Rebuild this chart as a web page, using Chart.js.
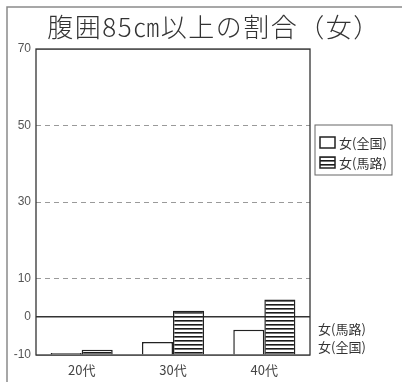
<!DOCTYPE html>
<html>
<head>
<meta charset="utf-8">
<script src="https://cdn.jsdelivr.net/npm/chart.js@4"></script>
<style>
  html, body { margin: 0; padding: 0; background: #fff; }
  #wrap { width: 402px; height: 382px; position: relative; }
</style>
</head>
<body>
<div id="wrap"><canvas id="chart" width="402" height="382"></canvas></div>
<script>
// data
const titleText = '腹囲85㎝以上の割合（女）';
const ageGroups = ['20代', '30代', '40代'];
const nationalValues = [-9.5, -6.6, -3.4];   // 女(全国)
const umajiValues = [-8.6, 1.6, 4.5];       // 女(馬路)
const yTicks = [-10, 0, 10, 30, 50, 70];
const sideLabels = ['女(馬路)', '女(全国)'];

const JP_FONT = '"Noto Sans CJK JP", "Noto Sans", sans-serif';

// horizontal stripe fill for the 馬路 bars
function makeStripes() {
    const c = document.createElement('canvas');
    c.width = 4;
    c.height = 4;
    const g = c.getContext('2d');
    g.fillStyle = '#fff';
    g.fillRect(0, 0, 4, 4);
    g.fillStyle = '#1a1a1a';
    g.fillRect(0, 0, 4, 1.6);
    return g.createPattern(c, 'repeat');
}
const stripes = makeStripes();

const framePlugin = {
    id: 'frame',
    beforeDraw(chart) {
        const ctx = chart.ctx;
        ctx.save();
        ctx.strokeStyle = '#8a8a8a';
        ctx.lineWidth = 1.5;
        ctx.beginPath();
        ctx.moveTo(7, 382);
        ctx.lineTo(7, 7);
        ctx.lineTo(402, 7);
        ctx.stroke();

        ctx.fillStyle = '#333';
        ctx.font = '300 26px ' + JP_FONT;
        ctx.letterSpacing = '1.5px';
        ctx.textAlign = 'center';
        ctx.textBaseline = 'middle';
        ctx.fillText(titleText, 214, 27);
        ctx.restore();
    },
    afterDatasetsDraw(chart) {
        const ctx = chart.ctx;
        const a = chart.chartArea;
        const y = chart.scales.y;
        ctx.save();
        ctx.strokeStyle = '#333';
        ctx.lineWidth = 1.3;
        ctx.strokeRect(a.left, a.top, a.right - a.left, a.bottom - a.top);

        // labels right of the plot
        ctx.fillStyle = '#333';
        ctx.font = '13px ' + JP_FONT;
        ctx.textAlign = 'left';
        ctx.textBaseline = 'middle';
        ctx.fillText(sideLabels[0], a.right + 8, y.getPixelForValue(0) + 12);
        ctx.fillText(sideLabels[1], a.right + 8, y.getPixelForValue(0) + 30);

        // legend box
        const lx = 315, ly = 125, lw = 77, lh = 50;
        ctx.strokeStyle = '#666';
        ctx.lineWidth = 1;
        ctx.strokeRect(lx, ly, lw, lh);
        chart.data.datasets.forEach((ds, i) => {
            const sy = ly + 12 + i * 20;
            ctx.fillStyle = ds.backgroundColor;
            ctx.fillRect(lx + 5, sy, 15, 11);
            ctx.strokeStyle = '#222';
            ctx.lineWidth = 1.5;
            ctx.strokeRect(lx + 5, sy, 15, 11);
            ctx.fillStyle = '#333';
            ctx.fillText(ds.label, lx + 24, sy + 6);
        });
        ctx.restore();
    }
};

new Chart(document.getElementById('chart'), {
    type: 'bar',
    data: {
        labels: ageGroups,
        datasets: [
            {
                label: '女(全国)',
                data: nationalValues,
                base: -10,
                backgroundColor: '#ffffff',
                borderColor: '#222',
                borderWidth: 1.5
            },
            {
                label: '女(馬路)',
                data: umajiValues,
                base: -10,
                backgroundColor: stripes,
                borderColor: '#222',
                borderWidth: 1.5
            }
        ]
    },
    options: {
        responsive: false,
        animation: false,
        events: [],
        layout: { padding: { top: 49, right: 92, left: 0, bottom: 0 } },
        datasets: { bar: { categoryPercentage: 0.68, barPercentage: 1.0 } },
        plugins: {
            legend: { display: false },
            title: { display: false },
            tooltip: { enabled: false }
        },
        scales: {
            x: {
                grid: { display: false, drawTicks: false },
                border: { display: false },
                ticks: {
                    color: '#444',
                    padding: 7,
                    font: { family: JP_FONT, size: 13 }
                },
                afterFit(scale) { scale.height = 27; }
            },
            y: {
                min: -10,
                max: 70,
                afterBuildTicks(scale) {
                    scale.ticks = yTicks.map(v => ({ value: v }));
                },
                afterFit(scale) { scale.width = 36; },
                grid: {
                    drawTicks: false,
                    color: c => c.tick && c.tick.value === 0 ? '#333' : '#9a9a9a',
                    lineWidth: c => c.tick && c.tick.value === 0 ? 1.5 : 1
                },
                border: {
                    display: false,
                    dash: c => c.tick && [10, 30, 50].includes(c.tick.value) ? [5, 4] : []
                },
                ticks: {
                    color: '#555',
                    padding: 5,
                    font: { family: '"Liberation Sans", Arial, sans-serif', size: 12 }
                }
            }
        }
    },
    plugins: [framePlugin]
});
</script>
</body>
</html>
